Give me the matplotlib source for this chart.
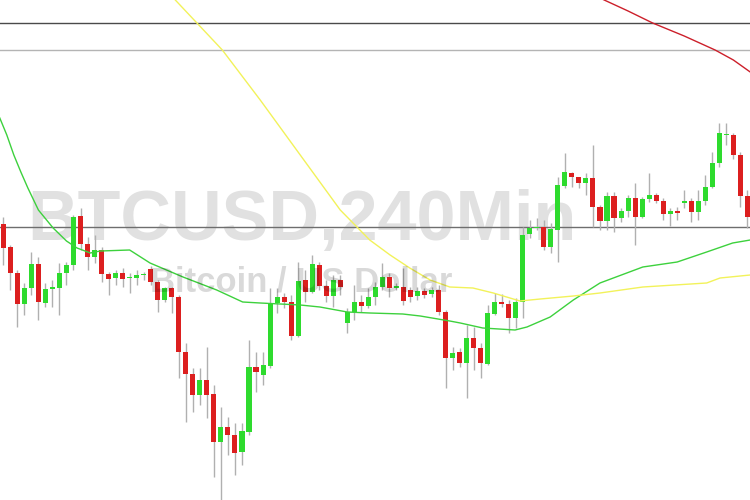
import matplotlib
matplotlib.use("Agg")
import matplotlib.pyplot as plt
import numpy as np

# candle data (4h bars), price units
opens = [276, 253, 227, 196, 212, 236, 197, 211, 212, 227, 235, 284, 256, 243, 250, 226, 222, 227,
         222, 222, 225, 231, 218, 200, 212, 203, 148, 126, 105, 120, 106, 58, 73, 65, 48, 68,
         133, 125, 134, 197, 203, 198, 164, 220, 208, 235, 214, 204, 220, 177, 188, 198, 194, 203,
         213, 223, 212, 213, 210, 204, 209, 206, 210, 188, 142, 148, 137, 162, 152, 136, 186, 198,
         196, 182, 198, 266, 272, 273, 253, 270, 314, 327, 323, 317, 322, 293, 279, 304, 282, 289,
         302, 283, 301, 305, 299, 286, 289, 297, 299, 288, 299, 313, 337, 365, 365, 345, 304]
highs = [283, 255, 230, 217, 248, 243, 217, 220, 237, 238, 285, 292, 263, 265, 253, 228, 230, 232,
         227, 230, 228, 234, 220, 213, 213, 205, 157, 132, 132, 153, 115, 93, 83, 77, 77, 160,
         148, 148, 212, 212, 207, 205, 238, 230, 245, 238, 220, 225, 225, 192, 215, 205, 212, 218,
         237, 227, 217, 232, 213, 213, 212, 213, 215, 190, 153, 152, 175, 173, 157, 195, 207, 206,
         200, 202, 273, 280, 282, 280, 277, 323, 347, 328, 323, 327, 355, 295, 308, 308, 292, 305,
         317, 303, 327, 307, 302, 292, 293, 310, 302, 310, 325, 348, 377, 377, 367, 348, 310]
lows = [235, 210, 173, 185, 205, 180, 193, 193, 185, 215, 230, 250, 230, 237, 218, 205, 215, 213,
        207, 215, 220, 215, 188, 198, 187, 122, 78, 88, 95, 82, 23, 0, 45, 25, 35, 65,
        108, 115, 132, 187, 192, 160, 163, 198, 207, 210, 198, 193, 205, 167, 180, 188, 192, 195,
        210, 203, 210, 195, 198, 200, 202, 203, 185, 112, 130, 133, 102, 130, 122, 135, 185, 193,
        167, 172, 182, 262, 270, 250, 247, 238, 312, 313, 312, 305, 273, 270, 270, 268, 278, 283,
        255, 282, 298, 297, 280, 274, 280, 292, 278, 280, 295, 312, 333, 355, 341, 293, 272]
closes = [252, 227, 196, 212, 236, 198, 211, 213, 227, 235, 283, 256, 243, 250, 226, 221, 227, 221,
          223, 225, 226, 218, 200, 212, 203, 148, 126, 105, 120, 105, 58, 73, 65, 47, 69, 133,
          128, 135, 197, 203, 198, 164, 219, 208, 236, 214, 204, 220, 213, 188, 198, 194, 203, 213,
          223, 212, 214, 199, 203, 209, 205, 210, 188, 142, 147, 137, 162, 152, 137, 187, 198, 196,
          182, 198, 265, 272, 273, 253, 271, 315, 328, 323, 317, 322, 293, 279, 304, 282, 289, 302,
          283, 301, 305, 299, 286, 289, 287, 299, 288, 299, 313, 337, 367, 366, 345, 304, 283]

# moving averages (bar index, value)
ma_fast_idx = [-0.5, 0.5, 1.5, 2.5, 3.5, 5, 7.1, 9, 10.5, 12.4, 13.8, 18, 20.9, 25.6, 30.4, 34.1,
               36.6, 42.3, 45.1, 49, 52.2, 56.9, 59.4, 63.6, 65.1, 68.3, 72.9, 74.6, 77.9, 81.2,
               85, 91.1, 96, 100.2, 103.9, 106.4]
ma_fast_val = [382, 365, 345, 328, 312, 290, 272, 259, 252, 247, 249, 250, 237, 223, 210, 198,
               197, 195, 193, 188, 187, 186, 184, 179, 177, 172, 170, 173, 183, 200,
               217, 233, 238, 248, 257, 260]
ma_mid_idx = [23.7, 24.5, 31.2, 36.6, 42.3, 48.0, 52.2, 55.1, 57.9, 60.8, 63.6, 66.9, 69.8, 73.6,
              76.5, 81.2, 85, 91.1, 100.2, 102.1, 106.4]
ma_mid_val = [507, 500, 450, 400, 345, 290, 260, 245, 232, 220, 213, 212, 207, 199,
              201, 204, 207, 213, 217, 222, 225]
ma_slow_idx = [83.6, 85.6, 89, 92.5, 97, 101.4, 104, 106.4]
ma_slow_val = [507, 500, 489, 477, 464, 450, 440, 428]

# horizontal levels
levels = [477, 450, 273]
level_colors = ["#4a4a4a", "#b4b4b4", "#6e6e6e"]

up_color = "#2edb2e"
down_color = "#dc1f1f"

fig = plt.figure(figsize=(7.5, 5), dpi=100)
ax = fig.add_axes([0, 0, 1, 1])
ax.set_xlim(-0.47, 106.37)
ax.set_ylim(0, 500)
ax.axis("off")

# big watermark behind everything
ax.text(0.037, 0.52, "BTCUSD,240Min", transform=ax.transAxes, fontsize=50.5,
        fontweight="bold", family="Liberation Sans", color="#e1e1e1",
        ha="left", va="baseline", zorder=0)

for lv, c in zip(levels, level_colors):
    ax.axhline(lv, color=c, lw=1.0, zorder=1)

o = np.array(opens, dtype=float)
h = np.array(highs, dtype=float)
l = np.array(lows, dtype=float)
c = np.array(closes, dtype=float)
x = np.arange(len(o))
up = c >= o
colors = np.where(up, up_color, down_color)

ax.vlines(x, l, h, color="#b0b0b0", lw=1.0, zorder=2)
body_lo = np.minimum(o, c)
body_h = np.maximum(np.abs(c - o), 1.5)
ax.bar(x, body_h, bottom=body_lo, width=0.72, color=colors, lw=0, zorder=3)

ax.plot(ma_fast_idx, ma_fast_val, color="#3dd13d", lw=1.0, zorder=4)
ax.plot(ma_mid_idx, ma_mid_val, color="#f2f25a", lw=1.0, zorder=4)
ax.plot(ma_slow_idx, ma_slow_val, color="#cc1f2a", lw=1.0, zorder=4)

# subtitle watermark drawn on top (translucent)
ax.text(0.2, 0.418, "Bitcoin / US Dollar", transform=ax.transAxes, fontsize=24.9,
        fontweight="bold", family="Liberation Sans", color="black", alpha=0.15,
        ha="left", va="baseline", zorder=5)

fig.savefig("out.png", dpi=100)
